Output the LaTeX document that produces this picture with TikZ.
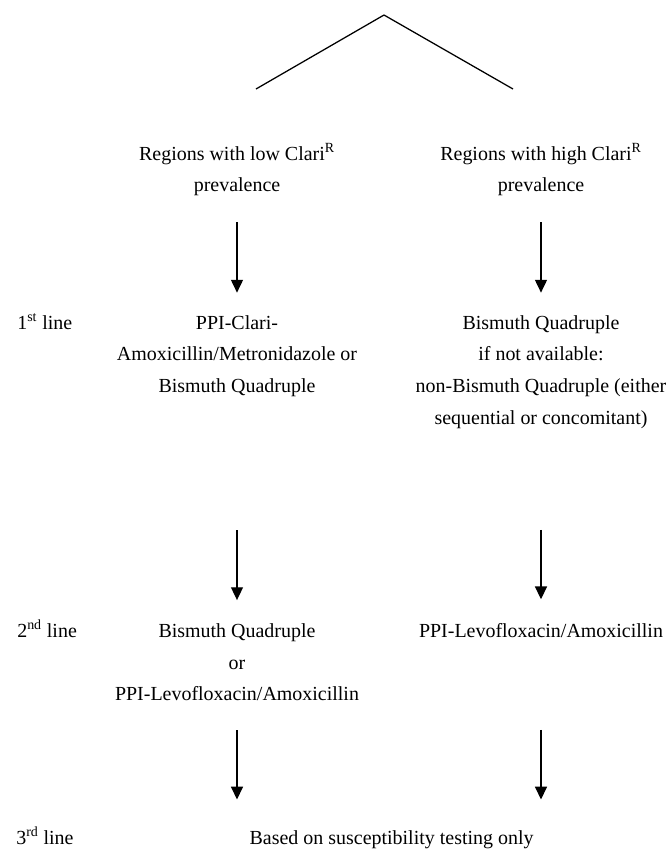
\documentclass[tikz,border=0pt]{standalone}
\usepackage{fontspec}
\setmainfont{Liberation Serif}
\usetikzlibrary{arrows.meta}

\begin{document}
\begin{tikzpicture}
		\tikzstyle{txt} = [align=center,inner sep=0pt,font=\fontsize{14.2}{22.5}\selectfont]
		\tikzstyle{lbl} = [anchor=base west,inner sep=0pt,font=\fontsize{14.2}{22.5}\selectfont]
		\tikzstyle{arr} = [-{Triangle[length=3.2mm,width=3mm]},line width=0.9pt]
		
		\useasboundingbox (0,0) rectangle (16.75,-21.375);
		
		\coordinate (top)     at (9.6,-0.375);
		\coordinate (lowend)  at (6.4,-2.225);
		\coordinate (highend) at (12.825,-2.225);
		
		\node[txt] (hdlow)  at (5.925,-4.25)  {Regions with low Clari\textsuperscript{R}\\prevalence};
		\node[txt] (hdhigh) at (13.525,-4.25) {Regions with high Clari\textsuperscript{R}\\prevalence};
		
		\node[lbl] (first) at (0.425,-8.225) {1\textsuperscript{st} line};
		\node[txt] (firstlow)  at (5.925,-8.9)  {PPI-Clari-\\Amoxicillin/Metronidazole or\\Bismuth Quadruple};
		\node[txt] (firsthigh) at (13.525,-9.295) {Bismuth Quadruple\\if not available:\\non-Bismuth Quadruple (either\\sequential or concomitant)};
		
		\node[lbl] (second) at (0.425,-15.925) {2\textsuperscript{nd} line};
		\node[txt] (secondlow) at (5.925,-16.56) {Bismuth Quadruple\\or\\PPI-Levofloxacin/Amoxicillin};
		\node[txt,anchor=base] (secondhigh) at (13.525,-15.925) {PPI-Levofloxacin/Amoxicillin};
		
		\node[lbl] (third) at (0.4,-21.1) {3\textsuperscript{rd} line};
		\node[txt,anchor=base] (last) at (9.79,-21.1) {Based on susceptibility testing only};
		
		\draw[line width=0.9pt] (top) -- (lowend);
		\draw[line width=0.9pt] (top) -- (highend);
		
		\draw[arr,shorten <=0.65cm,shorten >=0.56cm] (hdlow) -- (firstlow);
		\draw[arr,shorten <=0.65cm,shorten >=0.56cm] (hdhigh) -- (firsthigh);
		\draw[arr,shorten <=3.33cm,shorten >=0.585cm] (firstlow) -- (secondlow);
		\draw[arr,shorten <=2.53cm,shorten >=0.585cm] (firsthigh) -- (secondhigh);
		\draw[arr,shorten <=0.72cm,shorten >=0.76cm] (secondlow.south) -- (secondlow.south |- last.north);
		\draw[arr,shorten <=2.31cm,shorten >=0.76cm] (secondhigh.south) -- (secondhigh.south |- last.north);
	\end{tikzpicture}
\end{document}
